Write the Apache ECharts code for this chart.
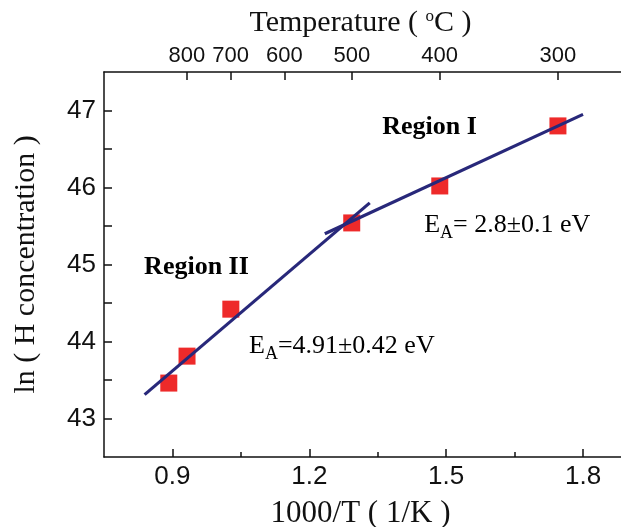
<!DOCTYPE html>
<html><head><meta charset="utf-8">
<script src="https://cdn.jsdelivr.net/npm/echarts@6/dist/echarts.min.js"></script>
<style>html,body{margin:0;padding:0;background:#fff}#c{width:621px;height:527px}</style>
</head><body><div id="c"></div>
<script>
// ---- data ----
const invT = [0.892, 0.932, 1.028, 1.293, 1.486, 1.745];   // 1000/T (1/K)
const lnH  = [43.46, 43.81, 44.42, 45.54, 46.02, 46.80];   // ln(H concentration)
const fitRegionII = [[0.839, 43.31], [1.3325, 45.80]];
const fitRegionI  = [[1.234, 45.40], [1.800, 46.95]];
const xMajor = [0.9, 1.2, 1.5, 1.8];
const xMinor = [1.05, 1.35, 1.65];
const yMajor = [43, 44, 45, 46, 47];
const yMinor = [43.5, 44.5, 45.5, 46.5];
const tempC  = [800, 700, 600, 500, 400, 300];
const noteText = ['{b|Region I}', '{b|Region II}', '{n|E}{s|A}{n|= 2.8\u00B10.1 eV}', '{n|E}{s|A}{n|=4.91\u00B10.42 eV}'];
const noteX = [1.361, 0.839, 1.453, 1.069];
const noteY = [46.78, 44.96, 45.50, 43.93];

const serif = "'Liberation Serif','Times New Roman',serif";
const sans = "'Liberation Sans',Arial,sans-serif";
const ink = '#111';
const navy = '#28287a';
const xMin = 0.75, xMax = 1.892;

const chart = echarts.init(document.getElementById('c'));
const axLine = {show: true, lineStyle: {color: ink, width: 1.5}};
const noLine = {show: false};
chart.setOption({
  backgroundColor: '#fff',
  animation: false,
  grid: {left: 104, right: -4, top: 72, bottom: 70, containLabel: false, outerBoundsMode: 'none'},
  xAxis: [
    {type: 'value', position: 'bottom', min: xMin, max: xMax,
     name: '1000/T ( 1/K )', nameLocation: 'middle', nameGap: 41,
     nameTextStyle: {fontFamily: serif, fontSize: 31, color: ink, padding: [0, 8, 0, 0]},
     axisLine: axLine, splitLine: {show: false},
     axisTick: {inside: true, length: 8, customValues: xMajor, lineStyle: {color: ink, width: 1.5}},
     axisLabel: {customValues: xMajor, margin: 7, fontFamily: sans, fontSize: 26, color: ink,
                 formatter: v => v.toFixed(1)}},
    {type: 'value', position: 'bottom', min: xMin, max: xMax,
     axisLine: noLine, splitLine: {show: false},
     axisTick: {inside: true, length: 5, customValues: xMinor, lineStyle: {color: ink, width: 1.5}},
     axisLabel: {show: false}},
    {type: 'value', position: 'top', min: xMin, max: xMax,
     name: 'Temperature ( {sup|o}C )', nameLocation: 'middle', nameGap: 33,
     nameTextStyle: {fontFamily: serif, fontSize: 30, color: ink, padding: [0, 8, 0, 0],
                     rich: {sup: {fontFamily: serif, fontSize: 17, color: ink, padding: [0, 0, 14, 0]}}},
     axisLine: axLine, splitLine: {show: false},
     axisTick: {inside: true, length: 8, customValues: tempC.map(t => 1000 / (t + 273.15)), lineStyle: {color: ink, width: 1.5}},
     axisLabel: {customValues: tempC.map(t => 1000 / (t + 273.15)), margin: 5, fontFamily: sans, fontSize: 22, color: ink,
                 formatter: v => String(Math.round(1000 / v - 273.15))}}
  ],
  yAxis: [
    {type: 'value', position: 'left', min: 42.5, max: 47.5,
     name: 'ln ( H concentration )', nameLocation: 'middle', nameGap: 63,
     nameTextStyle: {fontFamily: serif, fontSize: 30, color: ink},
     axisLine: axLine, splitLine: {show: false},
     axisTick: {inside: true, length: 8, customValues: yMajor.concat(yMinor), lineStyle: {color: ink, width: 1.5}},
     axisLabel: {customValues: yMajor, margin: 8, fontFamily: sans, fontSize: 26, color: ink}}
  ],
  series: [
    {type: 'scatter', xAxisIndex: 0, yAxisIndex: 0, symbol: 'rect', symbolSize: 17,
     itemStyle: {color: '#ee2a2a', opacity: 1}, z: 2,
     data: invT.map((x, i) => [x, lnH[i]])},
    {type: 'line', xAxisIndex: 0, yAxisIndex: 0, data: fitRegionII, symbol: 'none', z: 3,
     lineStyle: {color: navy, width: 3.2}},
    {type: 'line', xAxisIndex: 0, yAxisIndex: 0, data: fitRegionI, symbol: 'none', z: 3,
     lineStyle: {color: navy, width: 3.2}},
    {type: 'scatter', xAxisIndex: 0, yAxisIndex: 0, symbolSize: 1, silent: true, z: 4,
     itemStyle: {color: 'rgba(0,0,0,0)'},
     data: noteX.map((x, i) => ({value: [x, noteY[i]], label: {formatter: noteText[i]}})),
     label: {show: true, position: [0, 0], align: 'left', verticalAlign: 'middle',
       color: ink, textBorderWidth: 0, opacity: 1,
       rich: {
         b: {fontFamily: serif, fontWeight: 'bold', fontSize: 26, color: '#000', textBorderWidth: 0},
         n: {fontFamily: serif, fontSize: 26, color: '#000', textBorderWidth: 0},
         s: {fontFamily: serif, fontSize: 18, color: '#000', textBorderWidth: 0, padding: [15, 0, 0, 0]}
       }}}
  ]
});
</script></body></html>
